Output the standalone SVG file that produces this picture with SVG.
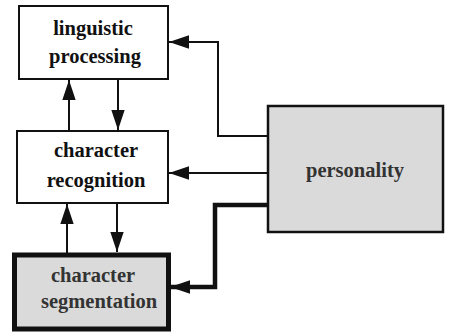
<svg xmlns="http://www.w3.org/2000/svg" width="450" height="335" viewBox="0 0 450 335">
<defs>
<style>
.box{fill:#fff;stroke:#111;stroke-width:2}
.gray{fill:#dadada;stroke:#111;stroke-width:2.5}
.thick{stroke-width:5}
.t{font-family:"Liberation Serif",serif;font-weight:bold;font-size:20.5px;text-anchor:middle;fill:#111}
.tg{fill:#333}
.c{fill:none;stroke:#111;stroke-width:2}
.ct{fill:none;stroke:#111;stroke-width:4.5}
</style>
<marker id="ah" markerUnits="userSpaceOnUse" markerWidth="20" markerHeight="14" viewBox="0 0 18 12" refX="18" refY="6" orient="auto">
<path d="M0,0 L18,6 L0,12 Z" fill="#111"/>
</marker>
</defs>
<rect width="450" height="335" fill="#fff"/>
<g id="linguistic">
<rect class="box" x="19" y="6" width="149" height="73"/>
<text class="t" x="93" y="35">linguistic</text>
<text class="t" x="95" y="63">processing</text>
</g>
<g id="recognition">
<rect class="box" x="17" y="131" width="151" height="72"/>
<text class="t" x="96" y="157">character</text>
<text class="t" x="96" y="187">recognition</text>
</g>
<g id="segmentation">
<rect class="gray thick" x="14.5" y="255" width="154" height="74"/>
<text class="t tg" x="93" y="282">character</text>
<text class="t tg" x="99" y="308">segmentation</text>
</g>
<g id="personality">
<rect class="gray" x="268" y="106" width="175" height="126"/>
<text class="t tg" x="355" y="177">personality</text>
</g>
<g id="connectors">
<path class="c" d="M69,131 V80" marker-end="url(#ah)"/>
<path class="c" d="M118,79 V130" marker-end="url(#ah)"/>
<path class="c" d="M67,253 V204" marker-end="url(#ah)"/>
<path class="c" d="M117,203 V252" marker-end="url(#ah)"/>
<path class="c" d="M268,136 H218 V42 H169" marker-end="url(#ah)"/>
<path class="c" d="M268,173 H169" marker-end="url(#ah)"/>
<path class="ct" d="M268,205 H215 V287 H170" marker-end="url(#ah)"/>
</g>
</svg>
